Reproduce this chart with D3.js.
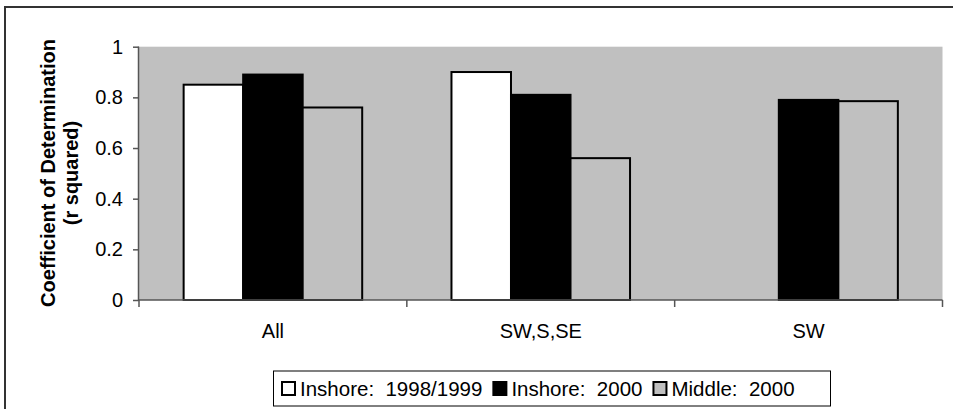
<!DOCTYPE html>
<html><head><meta charset="utf-8">
<script src="https://cdn.jsdelivr.net/npm/d3@7"></script>
<style>
body{margin:0;background:#fff;}
svg{display:block;font-family:"Liberation Sans",Arial,sans-serif;}
</style></head>
<body>
<svg id="chart" width="953" height="409"></svg>
<script>
const categories = ["All", "SW,S,SE", "SW"];
const seriesNames = ["Inshore:\u00a0 1998/1999", "Inshore:\u00a0 2000", "Middle:\u00a0 2000"];
const inshore9899 = [0.85, 0.90, null];
const inshore2000 = [0.89, 0.81, 0.79];
const middle2000 = [0.76, 0.56, 0.785];
const yTicks = [0, 0.2, 0.4, 0.6, 0.8, 1];
const seriesFills = ["#ffffff", "#000000", "#c0c0c0"];

const series = [inshore9899, inshore2000, middle2000];
const svg = d3.select("#chart");
const FS = 20;

// outer chart border (cropped at right/bottom)
svg.append("path").attr("d","M5,420 L5,7 L960,7").attr("fill","none").attr("stroke","#333").attr("stroke-width",2);

const plot = {l:139, r:942.5, t:46.7, b:300};
const x0 = d3.scaleBand().domain(categories).range([plot.l, plot.r]).paddingInner(0).paddingOuter(0);
const y = d3.scaleLinear().domain([0,1]).range([plot.b, plot.t]);
const cw = x0.bandwidth();
const bw = cw/(3+1.5);
const x1 = d3.scaleBand().domain(d3.range(3)).range([0, 3*bw]);

svg.append("rect").attr("x",plot.l).attr("y",plot.t).attr("width",plot.r-plot.l).attr("height",plot.b-plot.t).attr("fill","#c0c0c0");

const g = svg.append("g");
categories.forEach((c,ci)=>{
  series.forEach((s,si)=>{
    const v = s[ci];
    if(v==null) return;
    g.append("rect")
      .attr("x", x0(c) + (cw-3*bw)/2 + x1(si))
      .attr("y", y(v))
      .attr("width", bw)
      .attr("height", y(0)-y(v))
      .attr("fill", seriesFills[si])
      .attr("stroke","#000").attr("stroke-width",2);
  });
});

// y axis
const yAxis = d3.axisLeft(y).tickValues(yTicks).tickFormat(d=>d3.format("")(d)).tickSize(6).tickPadding(10);
const ya = svg.append("g").attr("transform",`translate(${plot.l},0)`).call(yAxis);
ya.select(".domain").attr("stroke","#555").attr("stroke-width",1.5).attr("d",`M-0.5,${plot.t}V${plot.b}`);
ya.selectAll(".tick line").attr("stroke","#555").attr("stroke-width",1.5);
ya.selectAll("text").attr("font-size",FS).attr("fill","#000").attr("font-family","Liberation Sans, Arial, sans-serif");

// x axis
const xAxis = d3.axisBottom(x0).tickSize(0).tickPadding(24);
const xa = svg.append("g").attr("transform",`translate(0,${plot.b})`).call(xAxis);
xa.select(".domain").attr("stroke","#555").attr("stroke-width",1.5).attr("d",`M${plot.l},0H${plot.r}`);
xa.selectAll("text").attr("font-size",FS).attr("fill","#000").attr("font-family","Liberation Sans, Arial, sans-serif");
// category boundary ticks
const bounds = categories.map(c=>x0(c)).concat([plot.r]);
svg.append("g").selectAll("line").data(bounds).join("line")
  .attr("x1",d=>d).attr("x2",d=>d).attr("y1",plot.b).attr("y2",plot.b+7)
  .attr("stroke","#555").attr("stroke-width",1.5);

// y title
const yt = svg.append("text").attr("transform",`translate(55,173) rotate(-90)`)
  .attr("text-anchor","middle").attr("font-weight","bold").attr("font-size",FS);
yt.append("tspan").attr("x",0).attr("y",0).text("Coefficient of Determination");
yt.append("tspan").attr("x",0).attr("y",23).text("(r squared)");

// legend
const lg = svg.append("g");
lg.append("rect").attr("x",273.5).attr("y",371).attr("width",557).attr("height",35)
  .attr("fill","#fff").attr("stroke","#000").attr("stroke-width",1);
let lx = 282;
seriesNames.forEach((n,i)=>{
  lg.append("rect").attr("x",lx).attr("y",382).attr("width",13).attr("height",13)
    .attr("fill",seriesFills[i]).attr("stroke","#000").attr("stroke-width",2);
  const t = lg.append("text").attr("x",lx+18).attr("y",396).attr("font-size",20.5).text(n);
  lx = lx + 18 + t.node().getComputedTextLength() + 11;
});
</script>
</body></html>
